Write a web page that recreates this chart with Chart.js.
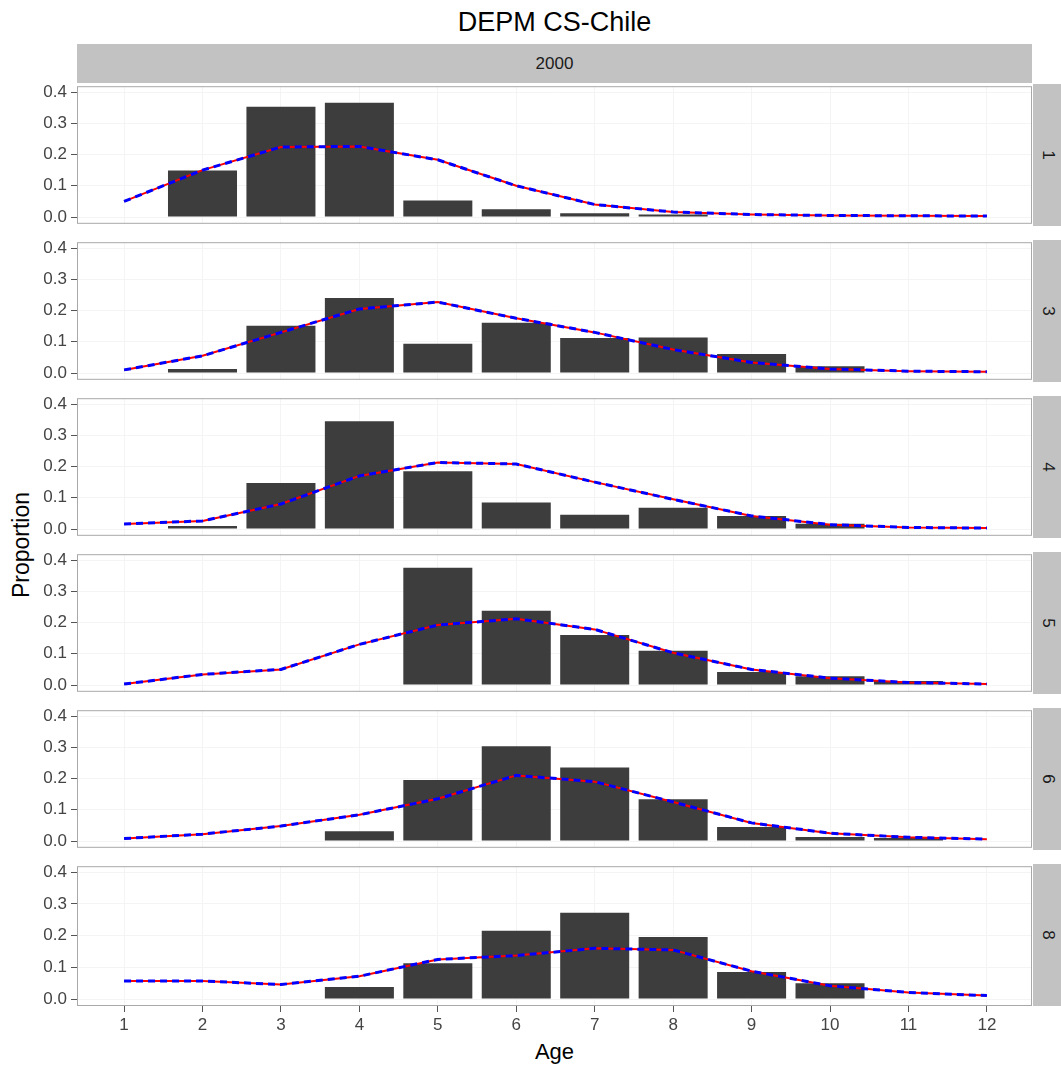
<!DOCTYPE html>
<html>
<head>
<meta charset="utf-8">
<title>DEPM CS-Chile</title>
<script src="https://cdn.jsdelivr.net/npm/chart.js@4/dist/chart.umd.min.js"></script>
<style>
  body { margin: 0; background: #fff; font-family: "Liberation Sans", Arial, sans-serif; }
  #page { position: relative; width: 1061px; height: 1065px; overflow: hidden; }
  #page canvas { position: absolute; left: 0; }
  .title { position: absolute; left: 77px; width: 955px; top: 7px; text-align: center; font-size: 27px; color: #000; }
  .strip-top { position: absolute; left: 77px; top: 44px; width: 955px; height: 39px; background: #c2c2c2;
               display: flex; align-items: center; justify-content: center; font-size: 17px; color: #1a1a1a; }
  .strip-right { position: absolute; left: 1033px; width: 30px; background: #c2c2c2;
                 display: flex; align-items: center; justify-content: center; }
  .strip-right span { display: inline-block; transform: rotate(90deg); font-size: 17px; color: #1a1a1a; }
  .ylab { position: absolute; left: 21px; top: 545px; transform: translate(-50%, -50%) rotate(-90deg);
          font-size: 23px; color: #000; white-space: nowrap; }
  .xlab { position: absolute; left: 77px; width: 955px; top: 1039px; text-align: center; font-size: 22px; color: #000; }
</style>
</head>
<body>
<div id="page">
  <div class="title">DEPM CS-Chile</div>
  <div class="strip-top">2000</div>
  <div class="ylab">Proportion</div>
  <div class="xlab">Age</div>
</div>
<script>
// ages on the x axis, one panel per age class
const ages = [1, 2, 3, 4, 5, 6, 7, 8, 9, 10, 11, 12];
const xTicks = [1, 2, 3, 4, 5, 6, 7, 8, 9, 10, 11, 12];
const yTicks = [0, 0.1, 0.2, 0.3, 0.4];
const panelLabels = ['1', '3', '4', '5', '6', '8'];

// observed proportions (bars), null = no bar
const obs1 = [null, 0.149, 0.353, 0.366, 0.053, 0.025, 0.012, 0.008, null, null, null, null];
const obs3 = [null, 0.013, 0.151, 0.240, 0.094, 0.161, 0.112, 0.114, 0.061, 0.022, null, null];
const obs4 = [null, 0.010, 0.147, 0.345, 0.185, 0.085, 0.046, 0.068, 0.042, 0.017, null, null];
const obs5 = [null, null, null, 0.002, 0.375, 0.238, 0.160, 0.110, 0.042, 0.028, 0.013, null];
const obs6 = [null, null, null, 0.031, 0.195, 0.303, 0.235, 0.134, 0.045, 0.013, 0.010, null];
const obs8 = [null, null, null, 0.038, 0.113, 0.215, 0.272, 0.196, 0.085, 0.050, null, null];

// fitted proportions (red solid / blue dashed lines overlap)
const fit1 = [0.050, 0.150, 0.224, 0.226, 0.183, 0.100, 0.040, 0.016, 0.008, 0.005, 0.004, 0.003];
const fit3 = [0.010, 0.055, 0.130, 0.205, 0.227, 0.175, 0.130, 0.075, 0.034, 0.013, 0.006, 0.004];
const fit4 = [0.016, 0.026, 0.080, 0.170, 0.213, 0.208, 0.150, 0.095, 0.042, 0.014, 0.005, 0.003];
const fit5 = [0.003, 0.034, 0.050, 0.130, 0.192, 0.212, 0.178, 0.103, 0.050, 0.022, 0.008, 0.003];
const fit6 = [0.008, 0.022, 0.048, 0.084, 0.135, 0.210, 0.190, 0.125, 0.058, 0.025, 0.012, 0.006];
const fit8 = [0.057, 0.057, 0.046, 0.072, 0.125, 0.137, 0.160, 0.155, 0.088, 0.042, 0.021, 0.011];

const obsPanels = [obs1, obs3, obs4, obs5, obs6, obs8];
const fitPanels = [fit1, fit3, fit4, fit5, fit6, fit8];

// panel geometry
const LEFT = 77, RIGHT = 1032, TOP = 84, STEP = 156, H = 142, PAD = 12, AXIS_H = 34;
const FONT = "'Liberation Sans', Arial, sans-serif";

const toPoints = (vals) => ages.map((a, i) => ({ x: a, y: vals[i] })).filter(p => p.y !== null);

const panelFrame = {
  id: 'panelFrame',
  afterDraw(chart) {
    const { ctx, chartArea: a } = chart;
    ctx.save();
    ctx.strokeStyle = '#a8a8a8';
    ctx.lineWidth = 1;
    ctx.strokeRect(a.left + 0.5, a.top + 0.5, a.right - a.left - 1, a.bottom - a.top - 1);
    ctx.restore();
  }
};

const page = document.getElementById('page');

panelLabels.forEach((label, k) => {
  const last = k === panelLabels.length - 1;
  const top = TOP + STEP * k;

  const strip = document.createElement('div');
  strip.className = 'strip-right';
  strip.style.top = top + 'px';
  strip.style.height = H + 'px';
  strip.innerHTML = '<span>' + label + '</span>';
  page.appendChild(strip);

  const canvas = document.createElement('canvas');
  canvas.width = RIGHT + 1;
  canvas.height = PAD + H + (last ? AXIS_H : PAD);
  canvas.style.top = (top - PAD) + 'px';
  page.appendChild(canvas);

  new Chart(canvas, {
    type: 'bar',
    data: {
      datasets: [
        {
          type: 'line',
          data: toPoints(fitPanels[k]),
          borderColor: '#0000ff',
          borderWidth: 3,
          borderDash: [7, 5],
          pointRadius: 0,
          tension: 0,
          order: 1,
        },
        {
          type: 'line',
          data: toPoints(fitPanels[k]),
          borderColor: '#ff0000',
          borderWidth: 2,
          pointRadius: 0,
          tension: 0,
          order: 2,
        },
        {
          data: toPoints(obsPanels[k]),
          backgroundColor: '#3d3d3d',
          barPercentage: 0.88,
          categoryPercentage: 1,
          order: 3,
        },
      ],
    },
    options: {
      responsive: false,
      animation: false,
      layout: { padding: { top: PAD, bottom: last ? 0 : PAD, left: 0, right: 1 } },
      plugins: { legend: { display: false }, tooltip: { enabled: false } },
      scales: {
        x: {
          type: 'linear',
          offset: false,
          min: 0.4,
          max: 12.575,
          afterBuildTicks: (s) => { s.ticks = xTicks.map(v => ({ value: v })); },
          afterFit: (s) => { s.height = last ? AXIS_H : 0; },
          grid: { offset: false, color: '#f4f4f4', drawTicks: last, tickLength: 6, tickColor: '#555' },
          border: { display: false },
          ticks: { display: last, color: '#444', padding: 3, font: { family: FONT, size: 17 } },
        },
        y: {
          min: -0.0217,
          max: 0.4186,
          afterBuildTicks: (s) => { s.ticks = yTicks.map(v => ({ value: v })); },
          afterFit: (s) => { s.width = LEFT; },
          grid: { color: '#f4f4f4', tickLength: 6, tickColor: '#555' },
          border: { display: false },
          ticks: { color: '#444', padding: 4, font: { family: FONT, size: 17 },
                   callback: (v) => v.toFixed(1) },
        },
      },
    },
    plugins: [panelFrame],
  });
});
</script>
</body>
</html>
